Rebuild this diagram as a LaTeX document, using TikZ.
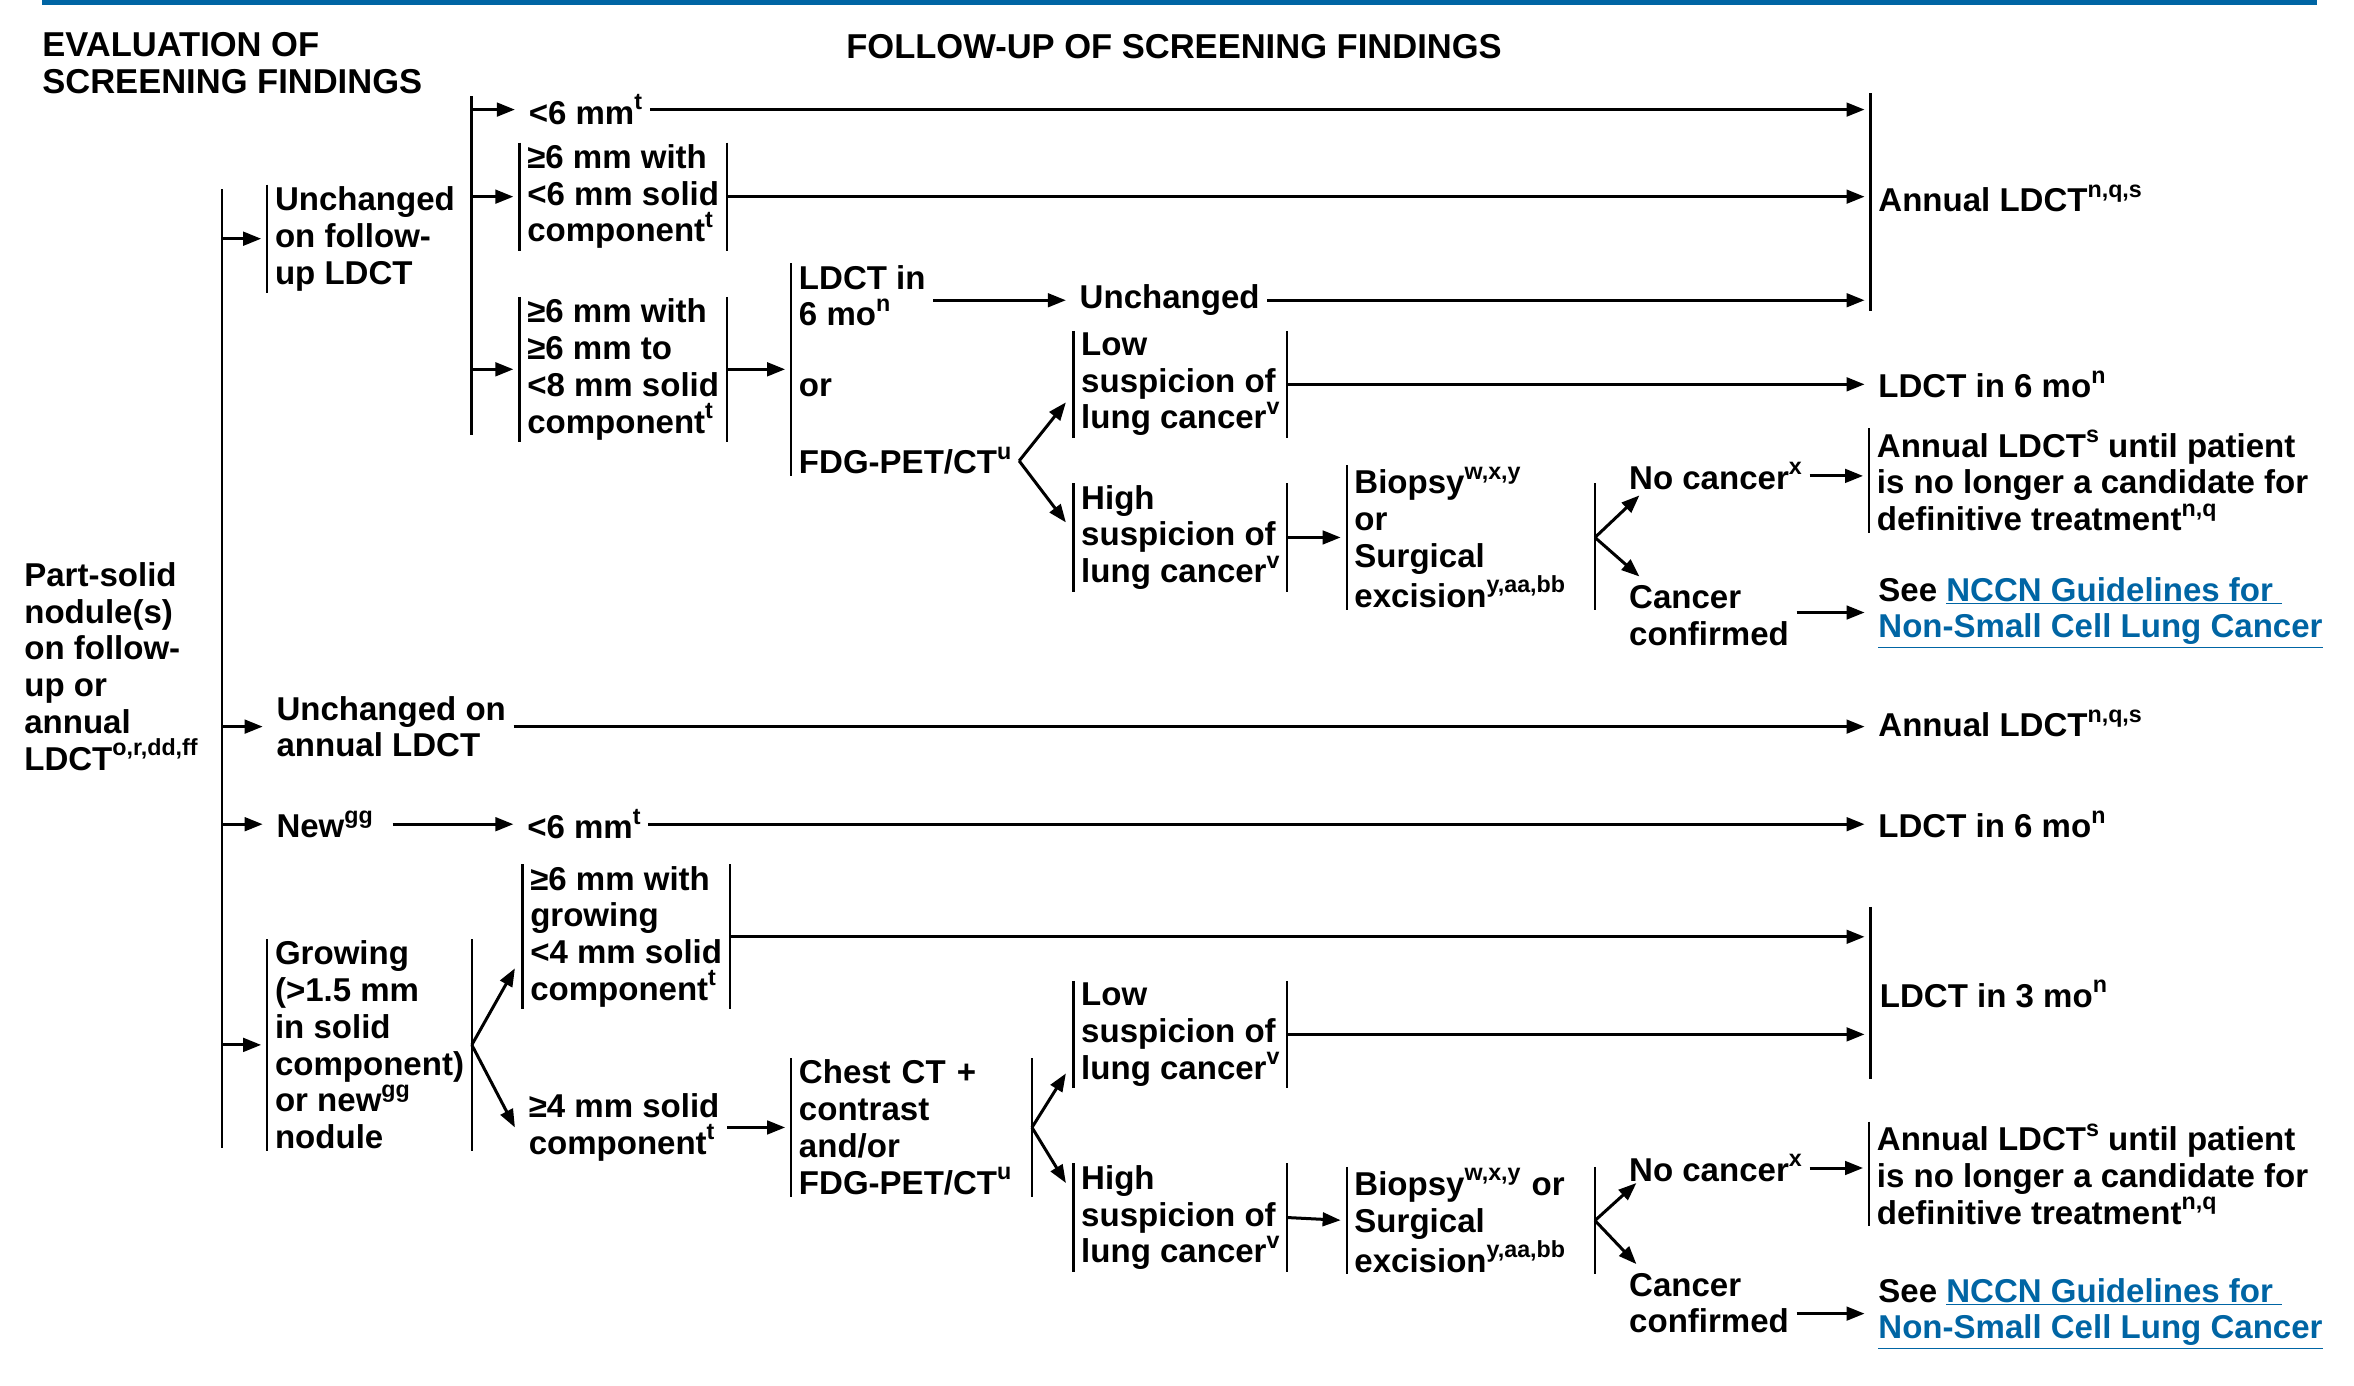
\documentclass[tikz,border=0pt]{standalone}
\usepackage{fontspec}
\setmainfont{Liberation Sans}
\usetikzlibrary{arrows.meta}

\definecolor{nccnblue}{RGB}{0,101,164}
\newcommand\sps[1]{\raisebox{0.44em}{\fontsize{15.5}{15.5}\selectfont #1}}
\newcommand\guide[1]{\textcolor{nccnblue}{\underline{#1}}}

\tikzset{
  txt/.style={font=\bfseries\fontsize{22}{24.5}\selectfont, align=left,
    anchor=west, inner xsep=5pt, inner ysep=1pt},
  head/.style={font=\bfseries\fontsize{23}{24.5}\selectfont, align=left, inner sep=0pt},
  bar/.style={draw, line width=1.5pt},
  arr/.style={draw, line width=2pt, -{Triangle[length=12pt,width=9pt]}, shorten >=4pt},
  darr/.style={arr, shorten >=0pt}
}

\begin{document}
\begin{tikzpicture}[x=1pt,y=-1pt]
  \useasboundingbox (0,0) rectangle (1568,923);
  \draw[nccnblue, line width=3.5pt] (28,1.5) -- (1543,1.5);

  \node[head, anchor=west] (hEval) at (28,42) {EVALUATION OF\\SCREENING FINDINGS};
  \node[head] (hFollow) at (782,31) {FOLLOW-UP OF SCREENING FINDINGS};

  \begin{scope}[every node/.style={txt}]
    \node (root)  at (11,444)  {Part-solid\\nodule(s)\\on follow-\\up or\\annual\\LDCT\sps{o,r,dd,ff}};
    % unchanged on follow-up
    \node (unfu)  at (178,159) {Unchanged\\on follow-\\up LDCT};
    \node (lt6a)  at (347,73)  {<6 mm\sps{t}};
    \node (ge6a)  at (346,131) {≥6 mm with\\<6 mm solid\\component\sps{t}};
    \node (ge6b)  at (346,246) {≥6 mm with\\≥6 mm to\\<8 mm solid\\component\sps{t}};
    \node (ldctA) at (527,197) {LDCT in\\6 mo\sps{n}};
    \node (orA)   at (527,258) {or};
    \node (fdgA)  at (527,307) {FDG-PET/CT\sps{u}};
    \node (unch)  at (714,200) {Unchanged};
    \node (lowA)  at (715,256) {Low\\suspicion of\\lung cancer\sps{v}};
    \node (highA) at (715,358) {High\\suspicion of\\lung cancer\sps{v}};
    \node[text width=155pt] (biopA) at (897,358) {Biopsy\sps{w,x,y}\\or\\Surgical\\excision\sps{y,aa,bb}};
    \node (noA)   at (1080,317) {No cancer\sps{x}};
    \node (confA) at (1080,410) {Cancer\\confirmed};
    \node (annA)  at (1246,132) {Annual LDCT\sps{n,q,s}};
    \node (ldct6A) at (1246,256) {LDCT in 6 mo\sps{n}};
    \node (untilA) at (1245,320) {Annual LDCT\sps{s} until patient\\is no longer a candidate for\\definitive treatment\sps{n,q}};
    \node (seeA)  at (1246,408) {See \guide{NCCN Guidelines for\ }\\\guide{Non-Small Cell Lung Cancer}};
    % unchanged on annual, new
    \node (unann) at (179,484) {Unchanged on\\annual LDCT};
    \node (annB)  at (1246,482) {Annual LDCT\sps{n,q,s}};
    \node (new)   at (179,549) {New\sps{gg}};
    \node (lt6b)  at (346,549) {<6 mm\sps{t}};
    \node (ldct6B) at (1246,549) {LDCT in 6 mo\sps{n}};
    % growing
    \node (grow)  at (178,696) {Growing\\(>1.5 mm\\in solid\\component)\\or new\sps{gg}\\nodule};
    \node (ge6c)  at (348,624) {≥6 mm with\\growing\\<4 mm solid\\component\sps{t}};
    \node (ge4)   at (347,751) {≥4 mm solid\\component\sps{t}};
    \node[text width=150pt] (chest) at (527,751) {Chest CT +\\contrast\\and/or\\FDG-PET/CT\sps{u}};
    \node (lowB)  at (715,689) {Low\\suspicion of\\lung cancer\sps{v}};
    \node (highB) at (715,811) {High\\suspicion of\\lung cancer\sps{v}};
    \node[text width=155pt] (biopB) at (897,813) {Biopsy\sps{w,x,y} or\\Surgical\\excision\sps{y,aa,bb}};
    \node (noB)   at (1080,778) {No cancer\sps{x}};
    \node (confB) at (1080,868) {Cancer\\confirmed};
    \node (ldct3) at (1247,662) {LDCT in 3 mo\sps{n}};
    \node (untilB) at (1245,782) {Annual LDCT\sps{s} until patient\\is no longer a candidate for\\definitive treatment\sps{n,q}};
    \node (seeB)  at (1246,875) {See \guide{NCCN Guidelines for\ }\\\guide{Non-Small Cell Lung Cancer}};
  \end{scope}

  \coordinate (b1t) at (148,126);  \coordinate (b1b) at (148,765);
  \coordinate (b2t) at (314,64);   \coordinate (b2b) at (314,290);
  \coordinate (rAt) at (1246,62);  \coordinate (rAb) at (1246,207);
  \coordinate (rCt) at (1246,604); \coordinate (rCb) at (1246,719);

  \begin{scope}[every edge/.style={bar}]
    \path (b1t) edge (b1b);
    \path (b2t) edge (b2b);
    \path (rAt) edge (rAb);
    \path (rCt) edge (rCb);
    \path (unfu.north west) edge (unfu.south west);
    \path (ge6a.north west) edge (ge6a.south west);
    \path (ge6a.north east) edge (ge6a.south east);
    \path (ge6b.north west) edge (ge6b.south west);
    \path (ge6b.north east) edge (ge6b.south east);
    \path (ldctA.north west) edge (fdgA.south west);
    \path (lowA.north west) edge (lowA.south west);
    \path (lowA.north east) edge (lowA.south east);
    \path (highA.north west) edge (highA.south west);
    \path (highA.north east) edge (highA.south east);
    \path (biopA.north west) edge (biopA.south west);
    \path ([yshift=-12pt]biopA.north east) edge (biopA.south east);
    \path (untilA.north west) edge (untilA.south west);
    \path (grow.north west) edge (grow.south west);
    \path (grow.north east) edge (grow.south east);
    \path (ge6c.north west) edge (ge6c.south west);
    \path (ge6c.north east) edge (ge6c.south east);
    \path (chest.north west) edge (chest.south west);
    \path (chest.north east) edge (chest.south east);
    \path (lowB.north west) edge (lowB.south west);
    \path (lowB.north east) edge (lowB.south east);
    \path (highB.north west) edge (highB.south west);
    \path (highB.north east) edge (highB.south east);
    \path (biopB.north west) edge (biopB.south west);
    \path (biopB.north east) edge (biopB.south east);
    \path (untilB.north west) edge (untilB.south west);
  \end{scope}

  \begin{scope}[every edge/.style={arr}]
    \path (b1t |- unfu.west) edge (unfu.west);
    \path (b1t |- unann.west) edge (unann.west);
    \path (b1t |- new.west) edge (new.west);
    \path (b1t |- grow.west) edge (grow.west);
    \path (b2t |- lt6a.west) edge (lt6a.west);
    \path (b2t |- ge6a.west) edge (ge6a.west);
    \path (b2t |- ge6b.west) edge (ge6b.west);
    \path (ge6b.east) edge (ldctA.west |- ge6b.east);
    \path (ldctA.east |- unch.west) edge (unch.west);
    \path (lt6a.east) edge (lt6a.east -| rAt);
    \path (ge6a.east) edge (ge6a.east -| rAt);
    \path (unch.east) edge (unch.east -| rAt);
    \path (lowA.east) edge (ldct6A.west);
    \path (highA.east) edge (biopA.west);
    \path (noA.east) edge (noA.east -| untilA.west);
    \path (confA.east |- seeA.west) edge (seeA.west);
    \path (unann.east) edge (unann.east -| annB.west);
    \path ([xshift=8pt]new.east) edge (lt6b.west);
    \path (lt6b.east) edge (ldct6B.west);
    \path (ge6c.east) edge (ge6c.east -| rCt);
    \path (ge4.east) edge (chest.west);
    \path (lowB.east) edge (lowB.east -| rCt);
    \path (highB.east) edge (biopB.west);
    \path (noB.east) edge (noB.east -| untilB.west);
    \path (confB.east |- seeB.west) edge (seeB.west);
  \end{scope}

  \begin{scope}[every edge/.style={darr}]
    \path (fdgA.east) edge ([xshift=-5pt,yshift=-12pt]lowA.west);
    \path (fdgA.east) edge ([xshift=-5pt,yshift=10pt]highA.west);
    \path (biopA.east) edge ([xshift=12pt,yshift=-13pt]noA.west);
    \path (biopA.east) edge ([xshift=12pt,yshift=26pt]confA.west);
    \path (grow.east) edge ([xshift=-5pt,yshift=-21pt]ge6c.west);
    \path (grow.east) edge ([xshift=-4pt]ge4.west);
    \path (chest.east) edge ([xshift=-5pt,yshift=-26pt]lowB.west);
    \path (chest.east) edge ([xshift=-5pt,yshift=23pt]highB.west);
    \path (biopB.east) edge ([xshift=10pt,yshift=-10pt]noB.west);
    \path (biopB.east) edge ([xshift=10pt,yshift=26pt]confB.west);
  \end{scope}
\end{tikzpicture}
\end{document}
